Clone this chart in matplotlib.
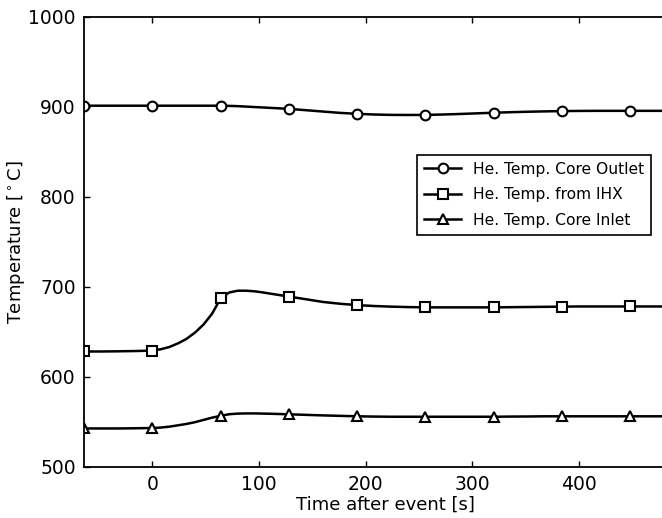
import matplotlib
matplotlib.use("Agg")
import matplotlib.pyplot as plt

# Time after the event [s]
time_s = [-64, -48, -32, -16, 0, 8, 16, 24, 32, 40, 48, 56, 64, 72, 80, 88, 96,
          104, 112, 120, 128, 144, 160, 176, 192, 208, 224, 240, 256, 272, 288,
          304, 320, 336, 352, 368, 384, 400, 416, 432, 448, 464, 480]
marker_times = [-64, 0, 64, 128, 192, 256, 320, 384, 448]

# Helium temperatures [deg C]
core_outlet = [901, 901, 901, 901, 901, 901, 901, 901, 901, 901, 901, 901, 901,
               900.8, 900.5, 900, 899.5, 899, 898.5, 898, 897.5, 896, 894.5, 893,
               892, 891.2, 890.8, 890.7, 890.8, 891.2, 891.8, 892.5, 893.2, 893.8,
               894.3, 894.7, 895, 895.2, 895.3, 895.3, 895.3, 895.3, 895.3]
from_ihx = [628, 628, 628.2, 628.5, 629, 630.5, 633, 637, 642, 649, 658, 670, 687,
            693.5, 695.5, 695.5, 694.8, 693.5, 692, 690.5, 689, 686, 683, 681,
            679.5, 678.5, 677.8, 677.3, 677, 677, 677, 677, 677, 677.2, 677.4,
            677.6, 677.8, 678, 678, 678, 678, 678, 678]
core_inlet = [542.5, 542.5, 542.5, 542.7, 543, 543.5, 544.5, 546, 547.5, 549.5,
              552, 554.5, 556.5, 558.3, 559, 559.2, 559.2, 559, 558.8, 558.5,
              558.2, 557.6, 557, 556.5, 556, 555.7, 555.5, 555.5, 555.5, 555.5,
              555.5, 555.5, 555.5, 555.7, 555.8, 556, 556, 556, 556, 556, 556,
              556, 556]

labels = ["He. Temp. Core Outlet", "He. Temp. from IHX", "He. Temp. Core Inlet"]
markers = ["o", "s", "^"]
mark_idx = [time_s.index(t) for t in marker_times]

fig = plt.figure(figsize=(6.62, 5.18), dpi=100)
ax = fig.add_axes([0.127, 0.099, 0.909, 0.869])

for series, lab, mk in zip([core_outlet, from_ihx, core_inlet], labels, markers):
    ax.plot(time_s, series, color="black", lw=1.8, marker=mk, markevery=mark_idx,
            markersize=7, markerfacecolor="white", markeredgecolor="black",
            markeredgewidth=1.5, label=lab)

ax.set_xlim(-64, 500)
ax.set_ylim(500, 1000)
ax.set_xticks([0, 100, 200, 300, 400])
ax.set_yticks([500, 600, 700, 800, 900, 1000])
ax.tick_params(direction="in", top=True, right=True, labelsize=13.5, length=4,
               width=1, pad=6)
for sp in ax.spines.values():
    sp.set_linewidth(1.3)

ax.set_xlabel("Time after event [s]", fontsize=13, labelpad=1)
ax.set_ylabel(r"Temperature [$^\circ$C]", fontsize=13, labelpad=1)

leg = ax.legend(loc="upper left", bbox_to_anchor=(0.553, 0.693), borderaxespad=0,
                fontsize=11.2, numpoints=1, fancybox=False, edgecolor="black",
                framealpha=1, handlelength=2.4, handletextpad=0.75,
                labelspacing=0.68, borderpad=0.45)
leg.get_frame().set_linewidth(1.2)

fig.savefig("out.png", dpi=100)
